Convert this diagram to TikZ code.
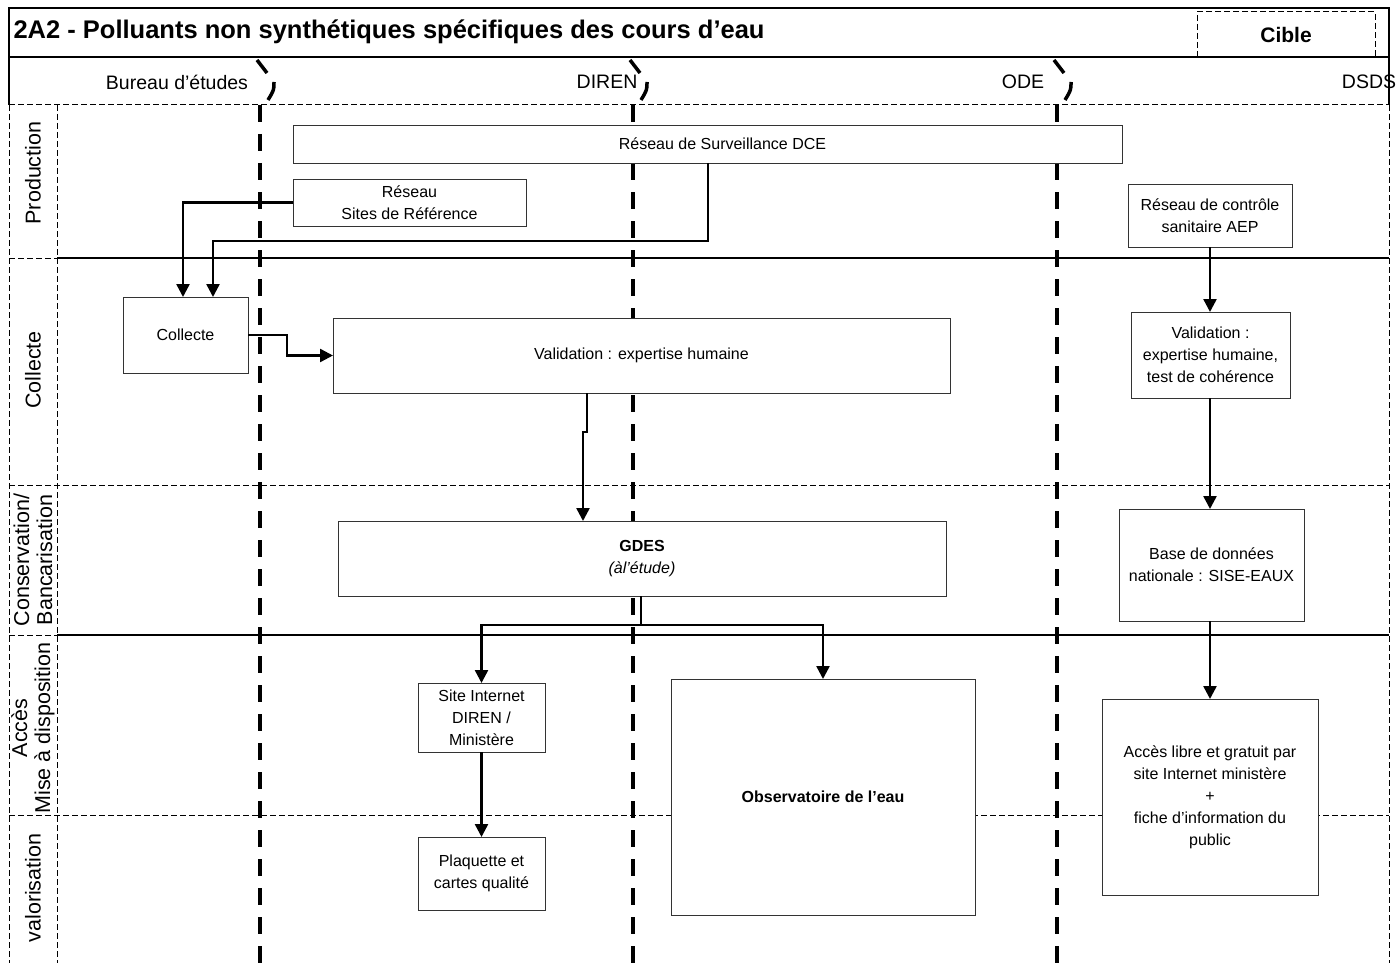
\documentclass[tikz,border=0pt]{standalone}
\usepackage{fontspec}
\setmainfont{Liberation Sans}
\usetikzlibrary{arrows.meta}
\begin{document}
\begin{tikzpicture}[x=1pt,y=-1pt,
  box/.style={draw=black!80, line width=0.9pt, fill=white, align=center, inner sep=2pt, outer sep=0pt, font=\fontsize{16}{22}\selectfont},
  conn/.style={line width=2.5pt, -{Triangle[length=13pt,width=13pt]}},
  plainconn/.style={line width=2.5pt},
  lanesep/.style={line width=3.5pt, dash pattern=on 17pt off 12pt},
  thindash/.style={line width=1pt, dash pattern=on 6pt off 3pt},
  thinsolid/.style={line width=1.2pt},
  lanelabel/.style={rotate=90, align=center, font=\fontsize{21.5}{23}\selectfont},
  actor/.style={font=\fontsize{19.5}{21}\selectfont},
]
\useasboundingbox (0,0) rectangle (1398,963);
\fill[white] (0,0) rectangle (1398,963);

% frame
\draw[thinsolid] (9,105) -- (9,8) -- (1389,8) -- (1389,105);
\draw[thinsolid] (9,57) -- (1389,57);
\draw[thindash] (9,105) -- (1389,105);
\draw[thindash] (9,105) -- (9,963);
\draw[thindash] (57,105) -- (57,963);
\draw[thindash] (1389,105) -- (1389,963);
\draw[thindash] (9,258) -- (57,258);
\draw[thinsolid] (57,258) -- (1389,258);
\draw[thindash] (9,485) -- (1389,485);
\draw[thindash] (9,635) -- (57,635);
\draw[thinsolid] (57,635) -- (1389,635);
\draw[thindash] (9,815) -- (1389,815);

% title and target
\node[anchor=west, font=\fontsize{25.5}{27}\bfseries] (title) at (10,32) {2A2 - Polluants non synthétiques spécifiques des cours d'eau};
\node[draw, thindash, minimum width=178pt, minimum height=46pt, font=\fontsize{21}{23}\bfseries] (cible) at (1286,35) {Cible};

% actors
\node[actor] (be) at (177,82) {Bureau d'études};
\node[actor] (diren) at (607,82) {DIREN};
\node[actor] (ode) at (1023,82) {ODE};
\node[actor] (dsds) at (1369,82) {DSDS};

% lane separators with header breaks
\foreach \xx in {260,633,1057}{
  \draw[line width=3.5pt] (\xx-3,60) -- (\xx+7,73);
  \draw[line width=3.5pt] (\xx+14,82) .. controls (\xx+14,90) .. (\xx+8,100);
  \draw[lanesep] (\xx,105) -- (\xx,963);
}

% lane labels
\node[lanelabel] (lprod) at (33,173) {Production};
\node[lanelabel] (lcol) at (33,370) {Collecte};
\node[lanelabel] (lcons) at (33,560) {Conservation/\\Bancarisation};
\node[lanelabel] (lacc) at (33,728) {Accès\\Mise à disposition};
\node[lanelabel] (lval) at (33,888) {valorisation};

% boxes
\node[box, minimum width=829pt, minimum height=38pt] (dce) at (707.5,144) {\hspace*{30pt}Réseau de Surveillance DCE};
\node[box, minimum width=233pt, minimum height=47pt] (rsr) at (409.5,202.5) {Réseau\\Sites de Référence};
\node[box, minimum width=125pt, minimum height=76pt] (col) at (185.5,335) {Collecte};
\node[box, minimum width=617pt, minimum height=75pt] (val) at (641.5,355.5) {Validation : expertise humaine};
\node[box, minimum width=608pt, minimum height=75pt] (gdes) at (642,558.5) {\textbf{GDES}\\\textit{(àl'étude)}};
\node[box, minimum width=127pt, minimum height=69pt] (site) at (481.5,717.5) {Site Internet\\DIREN /\\Ministère};
\node[box, minimum width=127pt, minimum height=73pt] (plaq) at (481.5,873.5) {Plaquette et\\cartes qualité};
\node[box, minimum width=304pt, minimum height=236pt] (obs) at (823,797) {\textbf{Observatoire de l'eau}};
\node[box, minimum width=164pt, minimum height=63pt] (rcs) at (1210,215.5) {Réseau de contrôle\\sanitaire AEP};
\node[box, minimum width=159pt, minimum height=86pt] (vd) at (1210.5,355) {Validation :\\expertise humaine,\\test de cohérence};
\node[box, minimum width=185pt, minimum height=112pt] (base) at (1211.5,565) {Base de données\\nationale : SISE-EAUX};
\node[box, minimum width=216pt, minimum height=196pt] (acc) at (1210,797) {Accès libre et gratuit par\\site Internet ministère\\+\\fiche d'information du\\public};

% x positions
\coordinate (xa) at (183,0);
\coordinate (xb) at (213,0);
\coordinate (xdce) at (708,0);
\coordinate (xv) at (587,0);
\coordinate (xg) at (583,0);
\coordinate (xgd) at (641,0);

% connectors
\draw[conn] (rsr.west) -| (col.north -| xa);
\draw[conn] (dce.south -| xdce) -- ++(0,78) -| (col.north -| xb);
\draw[conn] (col.east) -- ++(39,0) |- (val.west);
\draw[conn] (val.south -| xv) -- ++(0,39) -| (gdes.north -| xg);
\draw[plainconn] (gdes.south -| xgd) -- ++(0,29) coordinate (br);
\draw[conn] (br) -| (site.north);
\draw[conn] (br) -| (obs.north);
\draw[conn] (site.south) -- (plaq.north);
\draw[conn] (rcs.south) -- (vd.north -| rcs.south);
\draw[conn] (vd.south -| rcs.south) -- (base.north -| rcs.south);
\draw[conn] (base.south -| rcs.south) -- (acc.north);
\end{tikzpicture}
\end{document}
